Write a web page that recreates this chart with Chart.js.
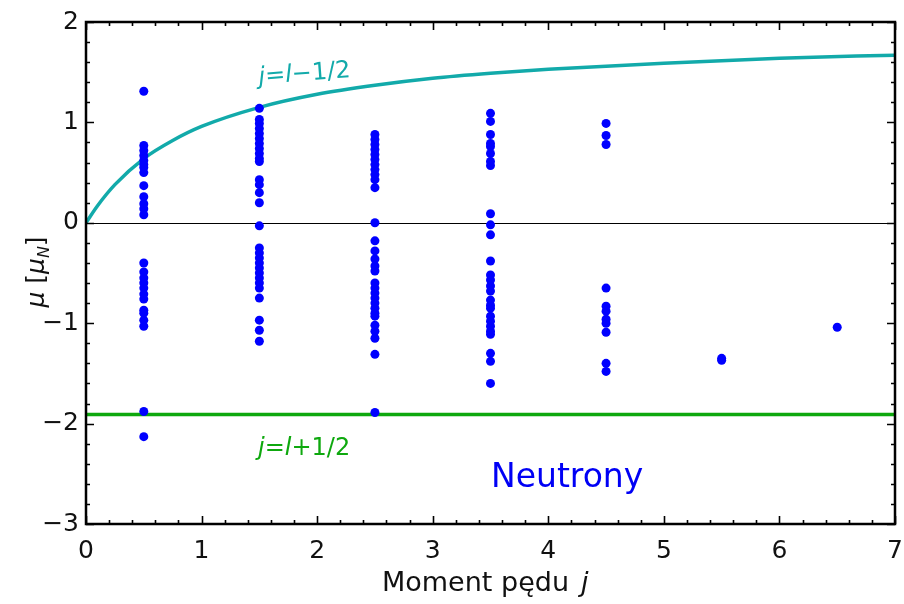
<!DOCTYPE html>
<html><head><meta charset="utf-8">
<script src="https://cdn.jsdelivr.net/npm/chart.js@4.4.1/dist/chart.umd.min.js"></script>
<style>html,body{margin:0;padding:0;background:#fff}#wrap{width:904px;height:604px}</style>
</head><body><div id="wrap"><canvas id="c" width="904" height="604"></canvas></div>
<script>
// Measured magnetic moments (neutrons), grouped by angular momentum j
const jValues = [0.5, 1.5, 2.5, 3.5, 4.5, 5.5, 6.5];
const mu_j05 = [1.31, 0.77, 0.72, 0.67, 0.62, 0.58, 0.55, 0.50, 0.37, 0.26, 0.19, 0.14, 0.08, -0.40, -0.49, -0.55, -0.60, -0.65, -0.71, -0.76, -0.87, -0.90, -0.97, -1.03, -1.88, -2.13];
const mu_j15 = [1.14, 1.03, 0.99, 0.94, 0.89, 0.84, 0.79, 0.74, 0.69, 0.64, 0.61, 0.43, 0.38, 0.30, 0.20, -0.03, -0.25, -0.30, -0.35, -0.40, -0.45, -0.50, -0.55, -0.60, -0.65, -0.75, -0.97, -1.07, -1.18];
const mu_j25 = [0.88, 0.83, 0.78, 0.73, 0.68, 0.63, 0.58, 0.53, 0.48, 0.43, 0.35, 0.00, -0.18, -0.28, -0.36, -0.43, -0.48, -0.60, -0.65, -0.70, -0.75, -0.80, -0.85, -0.90, -0.93, -1.02, -1.08, -1.15, -1.31, -1.89];
const mu_j35 = [1.09, 1.01, 0.88, 0.79, 0.76, 0.69, 0.61, 0.57, 0.09, -0.02, -0.12, -0.38, -0.52, -0.57, -0.63, -0.68, -0.77, -0.82, -0.85, -0.93, -0.98, -1.03, -1.08, -1.11, -1.30, -1.38, -1.60];
const mu_j45 = [0.99, 0.87, 0.78, -0.65, -0.83, -0.88, -0.96, -1.00, -1.09, -1.40, -1.48];
const mu_j55 = [-1.35, -1.37];
const mu_j65 = [-1.04];
const muGroups = [mu_j05, mu_j15, mu_j25, mu_j35, mu_j45, mu_j55, mu_j65];

// Schmidt line j = l - 1/2
const schmidtJ = [0, 0.1, 0.25, 0.5, 0.75, 1, 1.5, 2, 2.5, 3, 3.5, 4, 5, 6, 7];
const schmidtMu = [0, 0.17, 0.38, 0.64, 0.82, 0.96, 1.15, 1.28, 1.37, 1.44, 1.49, 1.53, 1.59, 1.64, 1.67];
// Schmidt line j = l + 1/2
const schmidt2J = [0, 7];
const schmidt2Mu = [-1.91, -1.91];

const xTicks = [0, 1, 2, 3, 4, 5, 6, 7];
const yTicks = [-3, -2, -1, 0, 1, 2];

const points = [];
jValues.forEach((j, i) => muGroups[i].forEach(m => points.push({x: j, y: m})));
const curve1 = schmidtJ.map((j, i) => ({x: j, y: schmidtMu[i]}));
const curve2 = schmidt2J.map((j, i) => ({x: j, y: schmidt2Mu[i]}));

const FONT = "'DejaVu Sans', sans-serif";
const TEAL = '#12AAAA', GREEN = '#0EA80E';

const decor = {
  id: 'decor',
  beforeDatasetsDraw(chart) {
    const {ctx, chartArea: a, scales: {y}} = chart;
    ctx.save();
    ctx.strokeStyle = '#000'; ctx.lineWidth = 1;
    const y0 = Math.round(y.getPixelForValue(0)) + 0.5;
    ctx.beginPath(); ctx.moveTo(a.left, y0); ctx.lineTo(a.right, y0); ctx.stroke();
    ctx.restore();
  },
  afterDatasetsDraw(chart) {
    const {ctx, chartArea: a, scales: {x, y}} = chart;
    ctx.save();
    ctx.strokeStyle = '#000';
    ctx.lineWidth = 1.6;
    for (let k = 0; k <= 35; k++) {
      const v = k * 0.2;
      const px = Math.round(x.getPixelForValue(v)) + 0.5;
      const len = (k % 5 === 0) ? 8 : 4;
      ctx.beginPath();
      ctx.moveTo(px, a.bottom); ctx.lineTo(px, a.bottom - len);
      ctx.moveTo(px, a.top); ctx.lineTo(px, a.top + len);
      ctx.stroke();
    }
    for (let k = 0; k <= 25; k++) {
      const v = -3 + k * 0.2;
      const py = Math.round(y.getPixelForValue(v)) + 0.5;
      const len = (k % 5 === 0) ? 8 : 4;
      ctx.beginPath();
      ctx.moveTo(a.left, py); ctx.lineTo(a.left + len, py);
      ctx.moveTo(a.right, py); ctx.lineTo(a.right - len, py);
      ctx.stroke();
    }
    ctx.lineWidth = 2.5;
    ctx.strokeRect(a.left, a.top, a.right - a.left, a.bottom - a.top);

    function drawRuns(runs, xStart, yBase, color) {
      let cx = xStart;
      runs.forEach(r => {
        ctx.font = r.font;
        ctx.fillStyle = color;
        ctx.fillText(r.t, cx, yBase + (r.dy || 0));
        cx += ctx.measureText(r.t).width + (r.gap || 0);
      });
      return cx;
    }
    function runsWidth(runs) {
      let w = 0;
      runs.forEach(r => { ctx.font = r.font; w += ctx.measureText(r.t).width + (r.gap || 0); });
      return w;
    }
    ctx.textAlign = 'left'; ctx.textBaseline = 'alphabetic';

    const lab = (sign) => [
      {t: 'j', font: 'italic 24px ' + FONT},
      {t: '=', font: '24px ' + FONT},
      {t: 'l', font: 'italic 24px ' + FONT},
      {t: sign + '1/2', font: '24px ' + FONT}
    ];
    ctx.save();
    ctx.translate(259, 84);
    ctx.rotate(-0.075);
    drawRuns(lab('\u2212'), 0, 0, TEAL);
    ctx.restore();
    drawRuns(lab('+'), 258, 455, GREEN);

    ctx.font = '33px ' + FONT;
    ctx.fillStyle = '#0000F5';
    ctx.fillText('Neutrony', 491, 487);

    const xr = [
      {t: 'Moment p\u0119du', font: '27px ' + FONT, gap: 12},
      {t: 'j', font: 'italic 27px ' + FONT}
    ];
    drawRuns(xr, 382, 591, '#111');

    ctx.save();
    ctx.translate(44, 272);
    ctx.rotate(-Math.PI / 2);
    const yr = [
      {t: '\u03BC', font: 'italic 25px ' + FONT},
      {t: ' [', font: '25px ' + FONT},
      {t: '\u03BC', font: 'italic 25px ' + FONT},
      {t: 'N', font: 'italic 16px ' + FONT, dy: 5},
      {t: ']', font: '25px ' + FONT}
    ];
    const yw = runsWidth(yr);
    drawRuns(yr, -yw / 2, 0, '#111');
    ctx.restore();
    ctx.restore();
  }
};

new Chart(document.getElementById('c'), {
  type: 'scatter',
  data: {
    datasets: [
      {data: curve2, showLine: true, borderColor: GREEN, borderWidth: 3.5, pointRadius: 0, fill: false, order: 3},
      {data: curve1, showLine: true, borderColor: TEAL, borderWidth: 3.5, pointRadius: 0, fill: false, cubicInterpolationMode: 'monotone', order: 2},
      {data: points, backgroundColor: '#0000FF', borderWidth: 0, pointRadius: 4.5, order: 1}
    ]
  },
  options: {
    responsive: false,
    animation: false,
    events: [],
    layout: {padding: {top: 22, right: 9, left: 0, bottom: 0}},
    plugins: {legend: {display: false}, tooltip: {enabled: false}},
    scales: {
      x: {
        type: 'linear', min: 0, max: 7,
        afterBuildTicks: s => { s.ticks = xTicks.map(v => ({value: v})); },
        afterFit: s => { s.height = 80; s.paddingLeft = 0; s.paddingRight = 0; },
        grid: {display: false, drawTicks: false},
        border: {display: false},
        ticks: {font: {family: FONT, size: 25}, color: '#111', padding: 12, maxRotation: 0,
                callback: v => String(v)}
      },
      y: {
        type: 'linear', min: -3, max: 2,
        afterBuildTicks: s => { s.ticks = yTicks.map(v => ({value: v})); },
        afterFit: s => { s.width = 86; s.paddingTop = 0; s.paddingBottom = 0; },
        grid: {display: false, drawTicks: false},
        border: {display: false},
        ticks: {font: {family: FONT, size: 25}, color: '#111', padding: 7,
                callback: v => (v < 0 ? '\u2212' + Math.abs(v) : String(v))}
      }
    }
  },
  plugins: [decor]
});
</script></body></html>
